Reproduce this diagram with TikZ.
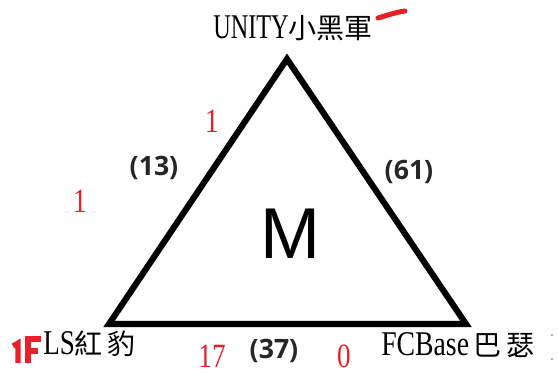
\documentclass[tikz,border=0pt]{standalone}
\usepackage{fontspec}
\usepackage{graphicx}
\setmainfont{Liberation Serif}
\newfontfamily\cjk{Noto Sans CJK TC}
\newfontfamily\numfont{Open Sans}
\newfontfamily\bigfont{Liberation Sans}
\newcommand{\narrow}[2][0.7]{\scalebox{#1}[1]{#2}}
\newcommand{\team}[3][0.7]{{\fontsize{26}{26}\selectfont\narrow[#1]{#2}}{\cjk\fontsize{21}{21}\selectfont #3}}
\definecolor{penred}{RGB}{232,32,42}
\tikzset{
  tri/.style={line width=4.6pt,line join=miter},
  score/.style={font=\numfont\bfseries\fontsize{20}{20}\selectfont,text=black!85},
  note/.style={font=\fontsize{25.5}{25.5}\selectfont,text=penred,inner sep=0pt},
  ink/.style={draw=penred,line width=3.8pt}
}

\begin{document}
\begin{tikzpicture}[x=0.75pt,y=-0.75pt]
            \useasboundingbox (0,0) rectangle (558,374);
            % triangle
            \coordinate (top) at (287,59);
            \coordinate (left) at (109,324);
            \coordinate (right) at (466,324);
            \draw [tri] (top) -- (left) -- (right) -- cycle;
            \node (m) at (290,234) {\bigfont\fontsize{54}{54}\selectfont M};
            % teams
            \node [anchor=base,inner sep=0pt] (unity) at (293,39) {\team{UNITY}{小黑軍}};
            \node [anchor=base west,inner sep=0pt] (ls) at (43,355) {\team[0.78]{LS}{紅\,豹}};
            \node [anchor=base west,inner sep=0pt] (fcbase) at (381,356) {\team[0.8]{FCBase}{\,巴\,瑟}};
            % scores
            \node [score] (s13) at (154,168) {(13)};
            \node [score] (s61) at (409,172) {(61)};
            \node [score] (s37) at (274,351) {(37)};
            % red notes
            \node [note] (n1a) at (212,121) {\narrow[0.8]{1}};
            \node [note] (n1b) at (80,201) {\narrow[0.8]{1}};
            \node [note,anchor=base] (n17) at (212,368) {\narrow[0.8]{17}};
            \node [note,anchor=base] (n0) at (344,368) {\narrow[0.8]{0}};
            % red pen marks
            \draw [ink,line cap=round] (378,18) .. controls (388,15) and (397,12) .. (405,11);
            \draw [ink] (13,346) -- (18,343) -- (18,363);
            \draw [ink] (28,363) -- (28,339) -- (41,339);
            \draw [ink] (28,351) -- (38,351);
            % cut-off marks at the right edge
            \fill [black!60] (552,335) circle [radius=0.8];
            \fill [black!60] (552,359) circle [radius=0.8];
        \end{tikzpicture}
\end{document}
